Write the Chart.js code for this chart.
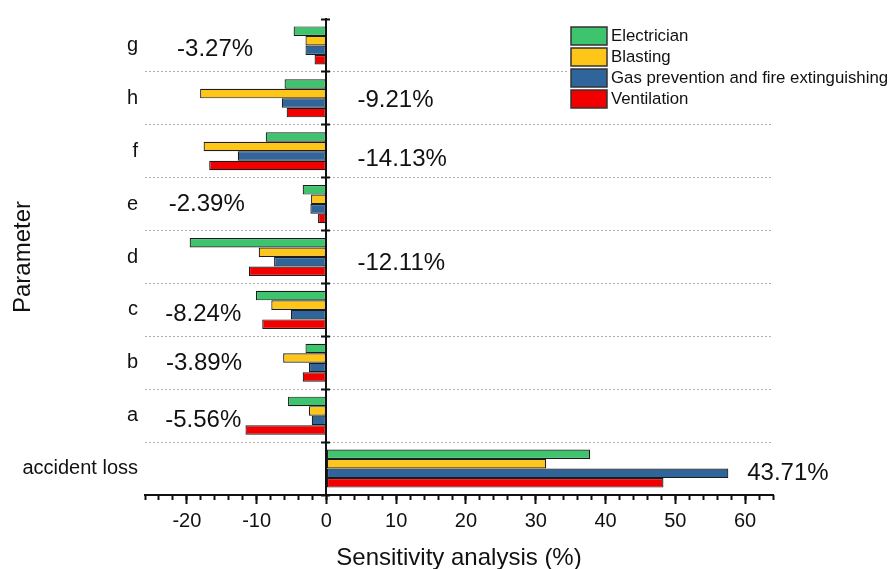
<!DOCTYPE html>
<html>
<head>
<meta charset="utf-8">
<script src="https://cdn.jsdelivr.net/npm/chart.js@4.4.1/dist/chart.umd.min.js"></script>
<style>
  html, body { margin: 0; padding: 0; background: #fff; }
</style>
</head>
<body>
<canvas id="chart" width="890" height="569"></canvas>
<script>
const categories = ['g', 'h', 'f', 'e', 'd', 'c', 'b', 'a', 'accident loss'];
const seriesNames = ['Electrician', 'Blasting', 'Gas prevention and fire extinguishing', 'Ventilation'];

const electrician = [-4.7, -6.0, -8.7, -3.4, -19.6, -10.1, -3.0, -5.5, 37.8];
const blasting = [-3.0, -18.1, -17.6, -2.2, -9.7, -7.9, -6.2, -2.5, 31.5];
const gasPrevention = [-3.0, -6.4, -12.7, -2.3, -7.5, -5.1, -2.5, -2.1, 57.6];
const ventilation = [-1.7, -5.7, -16.8, -1.2, -11.1, -9.2, -3.4, -11.6, 48.3];

// overall sensitivity of each parameter (the big % figures)
const overall = [-3.27, -9.21, -14.13, -2.39, -12.11, -8.24, -3.89, -5.56, 43.71];

const xMin = -26;
const xMax = 64;
const xTickValues = [-20, -10, 0, 10, 20, 30, 40, 50, 60];
const minorStep = 2;

// where each % figure sits: left edge in x units, shift from the category centre
const labelAnchors = [
  [-21.4, 0.08], [4.45, 0.04], [4.45, 0.15], [-22.6, 0.01], [4.45, 0.12],
  [-23.1, 0.08], [-23.0, 0.02], [-23.1, 0.09], [60.3, 0.09],
];

const colors = ['#3ec46d', '#ffc61a', '#30659c', '#f20000'];
const FONT = '"Liberation Sans", Arial, sans-serif';
const INK = '#111';

Chart.defaults.font.family = FONT;
Chart.defaults.color = INK;

const datasets = [electrician, blasting, gasPrevention, ventilation].map((data, i) => ({
  label: seriesNames[i],
  data,
  backgroundColor: colors[i],
  borderColor: '#1c1c1c',
  borderWidth: 1.2,
  borderSkipped: false,
  categoryPercentage: 0.72,
  barPercentage: 1,
  xAxisID: 'x',
  yAxisID: 'y',
}));

const boxLegend = {
  id: 'boxLegend',
  afterDraw(chart) {
    const { ctx } = chart;
    ctx.save();
    ctx.fillStyle = '#fff';
    ctx.fillRect(567, 24, 323, 88);
    chart.data.datasets.forEach((ds, i) => {
      const top = 27 + i * 21;
      ctx.fillStyle = ds.backgroundColor;
      ctx.fillRect(571, top, 36, 18);
      ctx.strokeStyle = '#333';
      ctx.lineWidth = 1.5;
      ctx.strokeRect(571, top, 36, 18);
      ctx.fillStyle = INK;
      ctx.font = '16.8px ' + FONT;
      ctx.textAlign = 'left';
      ctx.textBaseline = 'middle';
      ctx.fillText(ds.label, 611, top + 9.5);
    });
    ctx.restore();
  },
};

const overallLabels = {
  id: 'overallLabels',
  afterDatasetsDraw(chart) {
    const { ctx, scales: { x, y } } = chart;
    ctx.save();
    ctx.font = '24px ' + FONT;
    ctx.fillStyle = INK;
    ctx.textAlign = 'left';
    ctx.textBaseline = 'middle';
    overall.forEach((v, i) => {
      const [xv, dy] = labelAnchors[i];
      ctx.fillText(v.toFixed(2) + '%', x.getPixelForValue(xv), y.getPixelForValue(i + dy));
    });
    ctx.restore();
  },
};

const hideEdges = (ctx) => (ctx.type !== 'tick' || ctx.index === 0) ? 'rgba(0,0,0,0)' : '#b0b0b0';

new Chart(document.getElementById('chart'), {
  type: 'bar',
  data: { labels: categories, datasets },
  plugins: [overallLabels, boxLegend],
  options: {
    indexAxis: 'y',
    responsive: false,
    animation: false,
    devicePixelRatio: 1,
    layout: { padding: { top: 14, right: 117, left: 0, bottom: 0 } },
    plugins: { legend: { display: false }, tooltip: { enabled: false } },
    scales: {
      xMinor: {
        type: 'linear', axis: 'x', position: 'bottom', weight: 0,
        min: xMin, max: xMax,
        ticks: { display: false, stepSize: minorStep },
        grid: { drawOnChartArea: false, tickLength: 5, tickWidth: 2, tickColor: INK },
        border: { display: false },
        afterFit: (s) => { s.height = 0; },
      },
      x: {
        type: 'linear', position: 'bottom', weight: 1,
        min: xMin, max: xMax,
        afterBuildTicks: (s) => { s.ticks = xTickValues.map((value) => ({ value })); },
        ticks: { padding: 5, font: { size: 20 }, color: INK },
        grid: { drawOnChartArea: false, tickLength: 9, tickWidth: 2, tickColor: INK },
        border: { display: true, color: INK, width: 2 },
        title: { display: true, text: 'Sensitivity analysis (%)', font: { size: 24 }, color: INK, padding: { top: 0, bottom: -4 } },
        afterFit: (s) => { s.height = 74; },
      },
      y: {
        type: 'category', position: 'left', offset: true,
        ticks: { padding: 7, font: { size: 20 }, color: INK },
        grid: { offset: true, drawTicks: false, color: hideEdges, lineWidth: 1 },
        border: { display: false, dash: [2, 2] },
        title: { display: true, text: 'Parameter', font: { size: 24 }, color: INK, padding: { top: 9, bottom: 0 } },
        afterFit: (s) => { s.width = 145; },
      },
      yZero: {
        type: 'category', axis: 'y', position: { x: 0 }, offset: true,
        ticks: { display: false },
        grid: { offset: true, drawOnChartArea: false, tickLength: 4, tickWidth: 2, tickColor: INK },
        border: { display: true, color: INK, width: 2, z: 1 },
      },
      yZeroRight: {
        type: 'category', axis: 'y', position: { x: 0 }, offset: true,
        ticks: { display: false },
        grid: { offset: true, drawOnChartArea: false, tickLength: -4, tickWidth: 2, tickColor: INK },
        border: { display: false },
      },
    },
  },
});
</script>
</body>
</html>
